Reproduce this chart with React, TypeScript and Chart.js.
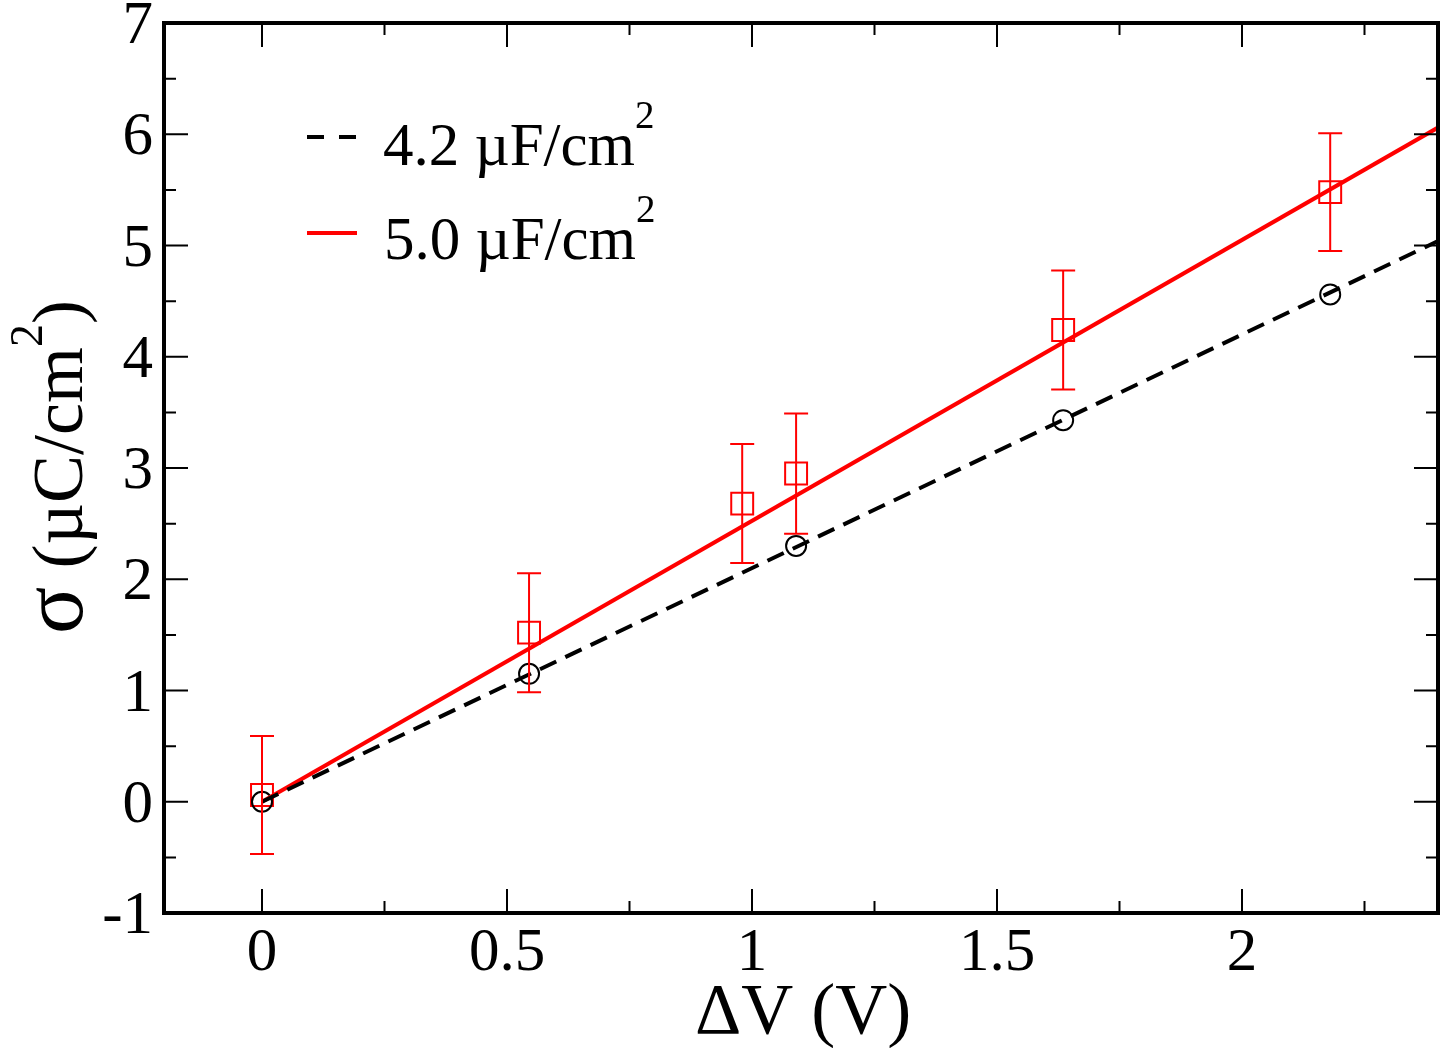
import React, { useEffect, useRef } from "react";
import { Chart, registerables } from "chart.js";

Chart.register(...registerables);

// Measured charge density vs. applied potential difference
const xCircles = [0, 0.545, 1.09, 1.635, 2.18];
const yCircles = [0, 1.15, 2.3, 3.43, 4.56];

const xSquares = [0, 0.545, 0.98, 1.09, 1.635, 2.18];
const ySquares = [0.06, 1.52, 2.68, 2.95, 4.24, 5.48];
const errSquares = [0.53, 0.535, 0.535, 0.54, 0.535, 0.53];

// Linear fits (end points)
const fitX = [0, 2.4];
const fitDashed = [0, 5.04];
const fitSolid = [0, 6.06];

const xTicks = [0, 0.5, 1, 1.5, 2];
const xTickLabels = ["0", "0.5", "1", "1.5", "2"];
const yTicks = [-1, 0, 1, 2, 3, 4, 5, 6, 7];
const yTickLabels = ["-1", "0", "1", "2", "3", "4", "5", "6", "7"];

const legendLabels = ["4.2 \u00b5F/cm", "5.0 \u00b5F/cm"];

const RED = "#ff0000";
const SERIF = "'Liberation Serif', 'Times New Roman', serif";

type Piece = { text: string; size: number; raise: number };

function drawPieces(
  ctx: CanvasRenderingContext2D,
  pieces: Piece[],
  x: number,
  y: number,
  align: "left" | "center"
) {
  const widths = pieces.map((p) => {
    ctx.font = `${p.size}px ${SERIF}`;
    return ctx.measureText(p.text).width;
  });
  const total = widths.reduce((a, b) => a + b, 0);
  let cx = align === "center" ? x - total / 2 : x;
  ctx.textAlign = "left";
  ctx.textBaseline = "alphabetic";
  pieces.forEach((p, i) => {
    ctx.font = `${p.size}px ${SERIF}`;
    ctx.fillText(p.text, cx, y - p.raise);
    cx += widths[i];
  });
}

const errorBarPlugin = {
  id: "errorBars",
  afterDatasetsDraw(chart: any) {
    const ctx = chart.ctx;
    const x = chart.scales.x;
    const y = chart.scales.y;
    ctx.save();
    ctx.strokeStyle = RED;
    ctx.lineWidth = 2;
    xSquares.forEach((xv, i) => {
      const px = x.getPixelForValue(xv);
      const top = y.getPixelForValue(ySquares[i] + errSquares[i]);
      const bot = y.getPixelForValue(ySquares[i] - errSquares[i]);
      ctx.beginPath();
      ctx.moveTo(px, top);
      ctx.lineTo(px, bot);
      ctx.moveTo(px - 12, top);
      ctx.lineTo(px + 12, top);
      ctx.moveTo(px - 12, bot);
      ctx.lineTo(px + 12, bot);
      ctx.stroke();
    });
    ctx.restore();
  },
};

const framePlugin = {
  id: "frame",
  afterDraw(chart: any) {
    const ctx = chart.ctx;
    const { left, right, top, bottom } = chart.chartArea;
    const xs = chart.scales.x;
    const ys = chart.scales.y;
    ctx.save();

    // inward ticks, mirrored on all four sides
    ctx.strokeStyle = "#000";
    ctx.lineWidth = 2;
    ctx.beginPath();
    for (let k = 0; k <= 9; k++) {
      const v = k * 0.25;
      const major = k % 2 === 0;
      const len = major ? 24 : 12;
      const px = xs.getPixelForValue(v);
      ctx.moveTo(px, bottom);
      ctx.lineTo(px, bottom - len);
      ctx.moveTo(px, top);
      ctx.lineTo(px, top + len);
    }
    for (let k = 0; k <= 16; k++) {
      const v = -1 + k * 0.5;
      const major = k % 2 === 0;
      const len = major ? 24 : 12;
      const py = ys.getPixelForValue(v);
      ctx.moveTo(left, py);
      ctx.lineTo(left + len, py);
      ctx.moveTo(right, py);
      ctx.lineTo(right - len, py);
    }
    ctx.stroke();

    // frame
    ctx.lineWidth = 4;
    ctx.strokeRect(left, top, right - left, bottom - top);

    // tick labels
    ctx.fillStyle = "#000";
    ctx.font = `61px ${SERIF}`;
    ctx.textBaseline = "alphabetic";
    ctx.textAlign = "center";
    xTicks.forEach((v, i) => {
      ctx.fillText(xTickLabels[i], xs.getPixelForValue(v), bottom + 57);
    });
    ctx.textAlign = "right";
    yTicks.forEach((v, i) => {
      ctx.fillText(yTickLabels[i], left - 11, ys.getPixelForValue(v) + 20);
    });

    // axis titles
    ctx.font = `72px ${SERIF}`;
    ctx.textAlign = "center";
    ctx.fillText("\u0394V (V)", (left + right) / 2 + 2, 1033);

    ctx.save();
    ctx.translate(82, 467);
    ctx.rotate(-Math.PI / 2);
    drawPieces(
      ctx,
      [
        { text: "\u03c3", size: 88, raise: 0 },
        { text: " (\u00b5C/cm", size: 72, raise: 0 },
        { text: "2", size: 46, raise: 40 },
        { text: ")", size: 72, raise: 0 },
      ],
      0,
      0,
      "center"
    );
    ctx.restore();

    // legend
    ctx.lineWidth = 4;
    ctx.strokeStyle = "#000";
    ctx.setLineDash([17, 15]);
    ctx.beginPath();
    ctx.moveTo(307, 137);
    ctx.lineTo(357, 137);
    ctx.stroke();
    ctx.setLineDash([]);
    ctx.strokeStyle = RED;
    ctx.beginPath();
    ctx.moveTo(307, 233);
    ctx.lineTo(357, 233);
    ctx.stroke();

    ctx.fillStyle = "#000";
    legendLabels.forEach((label, i) => {
      drawPieces(
        ctx,
        [
          { text: label, size: 61, raise: 0 },
          { text: "2", size: 39, raise: 37 },
        ],
        383 + i,
        165 + i * 94,
        "left"
      );
    });

    ctx.restore();
  },
};

export default function App() {
  const canvasRef = useRef<HTMLCanvasElement | null>(null);

  useEffect(() => {
    document.body.style.margin = "0";
    document.body.style.overflow = "hidden";
    const canvas = canvasRef.current;
    if (!canvas) return;
    const chart = new Chart(canvas, {
      type: "scatter",
      data: {
        datasets: [
          {
            label: "fit 4.2",
            type: "line",
            data: fitX.map((x, i) => ({ x, y: fitDashed[i] })),
            borderColor: "#000",
            borderWidth: 4,
            borderDash: [18, 10],
            pointRadius: 0,
            fill: false,
          },
          {
            label: "fit 5.0",
            type: "line",
            data: fitX.map((x, i) => ({ x, y: fitSolid[i] })),
            borderColor: RED,
            borderWidth: 4,
            pointRadius: 0,
            fill: false,
          },
          {
            label: "4.2",
            data: xCircles.map((x, i) => ({ x, y: yCircles[i] })),
            pointStyle: "circle",
            pointRadius: 10,
            borderColor: "#000",
            borderWidth: 2,
            backgroundColor: "rgba(0,0,0,0)",
            showLine: false,
          },
          {
            label: "5.0",
            data: xSquares.map((x, i) => ({ x, y: ySquares[i] })),
            pointStyle: "rect",
            pointRadius: 15.5,
            borderColor: RED,
            borderWidth: 2,
            backgroundColor: "rgba(0,0,0,0)",
            showLine: false,
          },
        ],
      },
      options: {
        responsive: false,
        animation: false,
        events: [],
        layout: {
          autoPadding: false,
          padding: { top: 23, right: 4, left: 0, bottom: 0 },
        },
        plugins: { legend: { display: false }, tooltip: { enabled: false } },
        scales: {
          x: {
            type: "linear",
            min: -0.2,
            max: 2.4,
            grid: { display: false },
            border: { display: false },
            ticks: { display: false },
            afterFit: (s: any) => {
              s.height = 135;
            },
          },
          y: {
            type: "linear",
            min: -1,
            max: 7,
            grid: { display: false },
            border: { display: false },
            ticks: { display: false },
            afterFit: (s: any) => {
              s.width = 164;
            },
          },
        },
      },
      plugins: [errorBarPlugin, framePlugin],
    } as any);
    return () => chart.destroy();
  }, []);

  return (
    <div style={{ width: 1442, height: 1048, overflow: "hidden", background: "#fff" }}>
      <canvas
        ref={canvasRef}
        width={1442}
        height={1048}
        style={{ display: "block", width: 1442, height: 1048 }}
      />
    </div>
  );
}
